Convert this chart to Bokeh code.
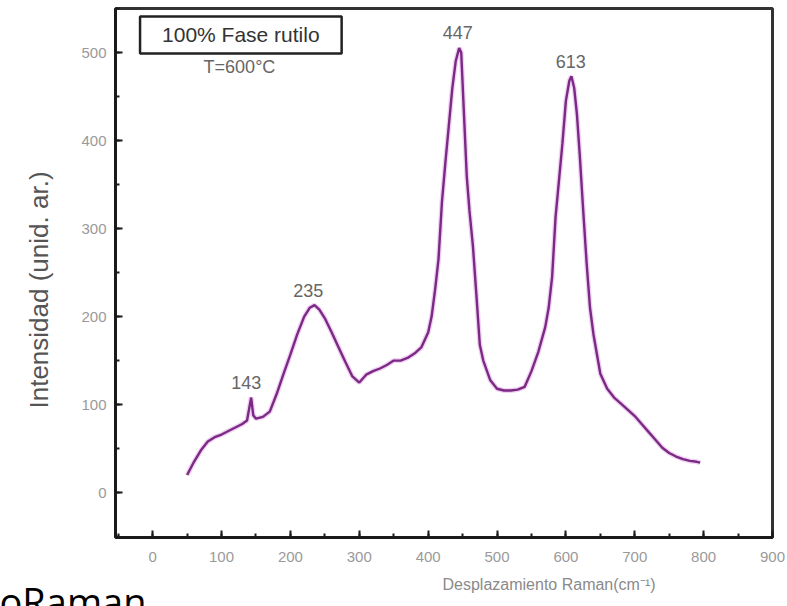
from bokeh.plotting import figure
from bokeh.models import Label, Range1d, SingleIntervalTicker, Title
from bokeh.embed import file_html
from bokeh.resources import INLINE

# Raman spectrum
shift = [50, 60, 70, 80, 90, 100, 110, 120, 130, 137,
         140, 143, 146, 150, 160, 170, 180, 190, 200, 210,
         220, 228, 235, 242, 250, 260, 270, 280, 290, 300,
         310, 320, 330, 340, 350, 360, 370, 380, 390, 400,
         405, 410, 415, 420, 425, 430, 435, 440, 445, 448,
         452, 456, 460, 465, 470, 475, 480, 490, 500, 510,
         520, 530, 540, 550, 560, 570, 575, 580, 585, 590,
         595, 600, 605, 608, 612, 616, 620, 625, 630, 635,
         640, 650, 660, 670, 680, 690, 700, 710, 720, 730,
         740, 750, 760, 770, 780, 790, 795]
intensity = [20, 35, 48, 58, 63, 66, 70, 74, 78, 82,
             95, 108, 88, 84, 86, 92, 112, 135, 157, 180,
             200, 210, 213, 208, 198, 182, 165, 148, 132, 125,
             134, 138, 141, 145, 150, 150, 153, 158, 165, 182,
             200, 230, 265, 330, 375, 417, 459, 490, 505, 500,
             430, 360, 320, 280, 225, 168, 150, 128, 118, 116,
             116, 117, 120, 138, 160, 188, 210, 245, 313, 355,
             397, 445, 468, 473, 460, 430, 385, 322, 262, 210,
             180, 135, 118, 108, 101, 94, 87, 78, 69, 60,
             51, 45, 41, 38, 36, 35, 34]

peak_pos = [136, 226, 443, 607]
peak_lab_y = [125, 230, 523, 490]
peak_text = ["143", "235", "447", "613"]

p = figure(width=787, height=606, output_backend="svg", toolbar_location=None,
           x_range=Range1d(-54, 900), y_range=Range1d(-51, 550),
           min_border_left=115, min_border_right=15, min_border_top=8,
           min_border_bottom=69)

p.xgrid.visible = False
p.ygrid.visible = False
p.outline_line_color = "#333333"
p.outline_line_width = 3

p.xaxis.ticker = SingleIntervalTicker(interval=100, num_minor_ticks=2)
p.yaxis.ticker = SingleIntervalTicker(interval=100, num_minor_ticks=2)
for ax in (p.xaxis, p.yaxis):
    ax.axis_line_width = 3
    ax.axis_line_color = "#1a1a1a"
    ax.major_tick_in = 7
    ax.major_tick_out = 0
    ax.minor_tick_in = 4
    ax.minor_tick_out = 0
    ax.major_tick_line_width = 2
    ax.minor_tick_line_width = 2
    ax.major_tick_line_color = "#1a1a1a"
    ax.minor_tick_line_color = "#1a1a1a"
    ax.major_label_text_font = "Liberation Sans"
    ax.major_label_text_font_size = "15px"
    ax.major_label_text_color = "#9a9a9a"
p.xaxis.major_label_standoff = 14
p.yaxis.major_label_standoff = 9

p.line(shift, intensity, line_color="#d47ae0", line_width=5, line_alpha=0.35)
p.line(shift, intensity, line_color="#7a2a82", line_width=2.4)

for xx, yy, tt in zip(peak_pos, peak_lab_y, peak_text):
    p.add_layout(Label(x=xx, y=yy, text=tt, text_align="center", text_baseline="middle",
                       text_font="Liberation Sans", text_font_size="18px", text_color="#666666"))

p.add_layout(Label(x=128, y=520, text="100% Fase rutilo", text_align="center",
                   text_baseline="middle", text_font="Liberation Sans", text_font_size="21px",
                   text_color="#333333", border_line_color="#222222", border_line_width=2.5,
                   background_fill_color="white", padding=(22, 7)))
p.add_layout(Label(x=126, y=484, text="T=600°C", text_align="center", text_baseline="middle",
                   text_font="Liberation Sans", text_font_size="18px", text_color="#666666"))

# axis titles placed as plot titles so that they can be offset like in the reference
p.add_layout(Title(text="Intensidad (unid. ar.)", align="left", offset=129, standoff=46,
                   vertical_align="top", text_font="Liberation Sans", text_font_size="26px",
                   text_font_style="normal", text_color="#555555"), "left")
p.add_layout(Title(text="Desplazamiento Raman(cm⁻¹)", align="left", offset=327, standoff=22,
                   vertical_align="top", text_font="Liberation Sans", text_font_size="16px",
                   text_font_style="normal", text_color="#8a8a8a"), "below")
p.add_layout(Title(text="oRaman", align="left", offset=-116, standoff=-62,
                   vertical_align="top", text_font="Open Sans", text_font_size="38px",
                   text_font_style="normal", text_color="#000000"), "below")

open("out.html", "w").write(file_html(p, INLINE))
